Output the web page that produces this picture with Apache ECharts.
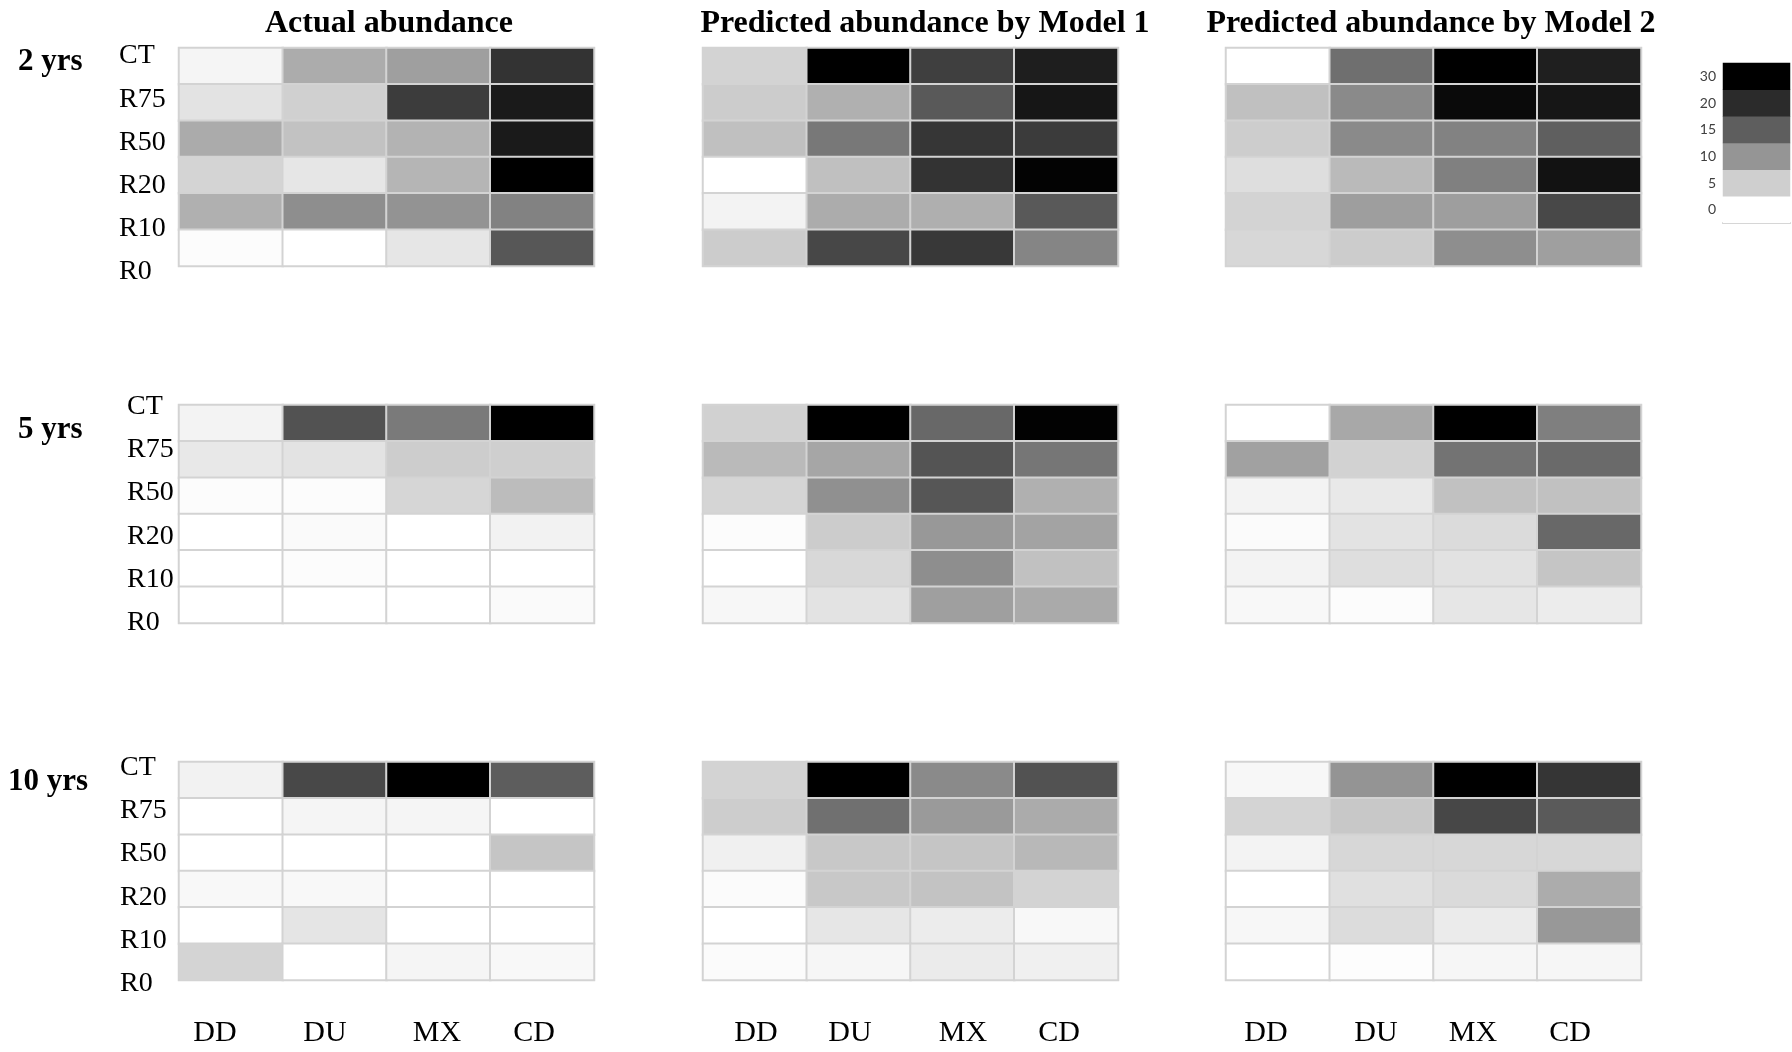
<!DOCTYPE html>
<html><head><meta charset="utf-8">
<script src="https://cdn.jsdelivr.net/npm/echarts@6/dist/echarts.min.js"></script>
<style>html,body{margin:0;padding:0;background:#fff}#c{width:1792px;height:1052px}</style>
</head><body><div id="c"></div>
<script>
const columns = ['DD', 'DU', 'MX', 'CD'];
const rows = ['CT', 'R75', 'R50', 'R20', 'R10', 'R0'];
const legendTicks = [0, 5, 10, 15, 20, 30];
const panelTitles = ['Actual abundance', 'Predicted abundance by Model 1', 'Predicted abundance by Model 2'];
const periods = ['2 yrs', '5 yrs', '10 yrs'];

// values per panel: rows CT..R0, columns DD, DU, MX, CD
const actual2 = [
  [1.0, 8.0, 9.1, 19.2],
  [2.9, 4.9, 18.3, 24.0],
  [8.1, 6.1, 7.4, 24.0],
  [4.5, 2.6, 7.2, 30],
  [7.7, 10.6, 10.2, 11.7],
  [0.3, 0, 2.6, 15.7]
];
const model1_2 = [
  [4.6, 30, 18.0, 23.0],
  [5.3, 7.7, 15.5, 25.1],
  [6.3, 12.6, 18.9, 18.4],
  [0, 6.3, 19.2, 29.3],
  [1.3, 8.0, 7.8, 15.5],
  [5.3, 17.3, 18.7, 11.5]
];
const model2_2 = [
  [0, 13.5, 30, 22.8],
  [6.3, 11.0, 27.7, 25.1],
  [5.2, 11.0, 11.7, 14.9],
  [3.4, 6.8, 11.9, 26.0],
  [4.6, 9.2, 9.2, 17.2],
  [4.2, 5.3, 10.6, 9.1]
];
const actual5 = [
  [1.3, 16.2, 12.5, 30],
  [2.4, 2.9, 5.2, 5.0],
  [0.3, 0.3, 4.3, 6.6],
  [0, 0.5, 0, 1.4],
  [0, 0.3, 0, 0],
  [0, 0, 0, 0.5]
];
const model1_5 = [
  [4.8, 30, 14.1, 29.5],
  [6.8, 8.5, 16.0, 12.8],
  [4.4, 10.5, 15.8, 7.7],
  [0.3, 5.3, 9.7, 8.8],
  [0, 4.1, 10.6, 6.2],
  [0.8, 2.9, 9.1, 8.2]
];
const model2_5 = [
  [0, 8.4, 30, 12.0],
  [9.0, 4.7, 13.1, 13.9],
  [1.3, 2.3, 6.2, 6.2],
  [0.4, 2.9, 3.8, 14.1],
  [1.3, 3.4, 3.0, 5.9],
  [0.7, 0.3, 2.6, 2.0]
];
const actual10 = [
  [1.4, 17.2, 30, 15.1],
  [0, 1.0, 1.0, 0],
  [0, 0, 0, 5.9],
  [0.7, 0.7, 0, 0],
  [0, 2.7, 0, 0],
  [4.5, 0, 1.0, 0.7]
];
const model1_10 = [
  [4.6, 30, 11.0, 16.2],
  [5.2, 13.4, 9.6, 8.1],
  [1.6, 5.6, 5.9, 7.0],
  [0.4, 5.6, 6.0, 4.6],
  [0, 2.6, 2.0, 0.7],
  [0.4, 0.9, 2.1, 1.6]
];
const model2_10 = [
  [0.8, 10.1, 30, 19.0],
  [4.5, 5.6, 17.3, 15.4],
  [1.2, 4.2, 4.2, 4.2],
  [0, 3.2, 3.9, 8.0],
  [0.8, 3.6, 2.1, 9.7],
  [0, 0.2, 0.9, 0.9]
];

const panels = [
  [actual2, model1_2, model2_2],
  [actual5, model1_5, model2_5],
  [actual10, model1_10, model2_10]
];

const SERIF = '"Liberation Serif", "Times New Roman", serif';
const panelLeft = [179, 703, 1226], panelWidth = 415;
const panelTop = [48, 405, 762], panelHeight = 218;
const rowLabelX = [119, 127, 120];
const rowLabelTop = [34.5, 384.5, 745.5], rowLabelH = [259, 260, 260];
const colLabelX = [[215, 325, 437, 534], [756, 850, 963, 1059], [1266, 1376, 1473, 1570]];
const colLabelY = 1033;
const titleX = [389, 925, 1431], titleY = 23.5;
const periodX = [18, 18, 8], periodY = [61.5, 429.5, 781.5];

const grids = [], xAxes = [], yAxes = [], series = [];
function addGrid(g) { g.outerBoundsMode = 'none'; g.containLabel = false; grids.push(g); return grids.length - 1; }

panels.forEach((rowPanels, r) => rowPanels.forEach((mat, c) => {
  const gi = addGrid({ left: panelLeft[c], top: panelTop[r], width: panelWidth, height: panelHeight });
  xAxes.push({ type: 'category', gridIndex: gi, data: columns, show: false });
  yAxes.push({ type: 'category', gridIndex: gi, data: rows, inverse: true, show: false });
  const data = [];
  mat.forEach((vals, yi) => vals.forEach((v, xi) => data.push([xi, yi, v])));
  series.push({
    type: 'heatmap', xAxisIndex: gi, yAxisIndex: gi, data: data, silent: true,
    itemStyle: { borderColor: '#d3d3d3', borderWidth: 2 },
    emphasis: { disabled: true }
  });
}));

// row label axes
for (let r = 0; r < 3; r++) {
  const gi = addGrid({ left: rowLabelX[r] - 9, top: rowLabelTop[r], width: 1, height: rowLabelH[r] });
  xAxes.push({ type: 'category', gridIndex: gi, data: [''], show: false });
  yAxes.push({
    type: 'category', gridIndex: gi, data: rows, inverse: true, position: 'right',
    axisLine: { show: false }, axisTick: { show: false }, splitLine: { show: false },
    axisLabel: { margin: 8, fontFamily: SERIF, fontSize: 28, color: '#000' }
  });
}
// legend
{
  const gi = addGrid({ left: 1723, top: 63, width: 67, height: 160 });
  xAxes.push({
    type: 'category', gridIndex: gi, data: [''],
    axisLine: { show: true, lineStyle: { color: '#c8c8c8', width: 2 } },
    axisTick: { show: false }, axisLabel: { show: false }, splitLine: { show: false }
  });
  yAxes.push({
    type: 'category', gridIndex: gi, data: legendTicks.map(String),
    axisLine: { show: false }, axisTick: { show: false }, splitLine: { show: false },
    axisLabel: { margin: 7, fontFamily: 'Lato, "Noto Sans", sans-serif', fontSize: 14, color: '#404040' }
  });
  series.push({
    type: 'heatmap', xAxisIndex: gi, yAxisIndex: gi, silent: true,
    data: legendTicks.map((v, i) => [0, i, v]),
    itemStyle: { borderWidth: 0 }, emphasis: { disabled: true }
  });
}

const graphic = [];
panelTitles.forEach((t, i) => graphic.push({
  type: 'text', x: titleX[i], y: titleY,
  style: { text: t, font: 'bold 32px ' + SERIF, fill: '#000', align: 'center', verticalAlign: 'middle', textAlign: 'center', textVerticalAlign: 'middle' }
}));
periods.forEach((t, i) => graphic.push({
  type: 'text', x: periodX[i], y: periodY[i],
  style: { text: t, font: 'bold 31px ' + SERIF, fill: '#000', align: 'left', verticalAlign: 'middle', textAlign: 'left', textVerticalAlign: 'middle' }
}));
colLabelX.forEach(xs => columns.forEach((t, i) => graphic.push({
  type: 'text', x: xs[i], y: colLabelY,
  style: { text: t, font: '30px ' + SERIF, fill: '#000', align: 'center', verticalAlign: 'middle', textAlign: 'center', textVerticalAlign: 'middle' }
})));

const chart = echarts.init(document.getElementById('c'), null, { renderer: 'canvas' });
chart.setOption({
  animation: false,
  backgroundColor: '#ffffff',
  grid: grids, xAxis: xAxes, yAxis: yAxes, series: series,
  visualMap: {
    type: 'continuous', show: false, min: 0, max: 30, dimension: 2,
    inRange: { color: ['#ffffff', '#cfcfcf', '#959595', '#5e5e5e', '#2b2b2b', '#161616', '#000000'] }
  },
  graphic: graphic
});
</script>
</body></html>
